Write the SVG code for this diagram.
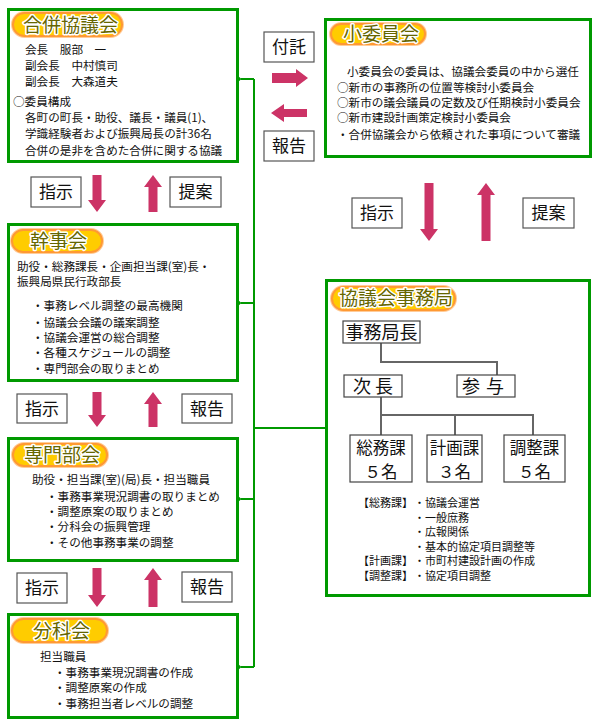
<svg xmlns="http://www.w3.org/2000/svg" width="598" height="725" viewBox="0 0 598 725">
<style>
text{font-family:"Noto Sans CJK JP","Noto Sans CJK SC",sans-serif;fill:#111;}
.box{fill:#fff;stroke:#009900;stroke-width:3;}
.pill{fill:#ffcc00;stroke:#ff9933;stroke-width:2;}
.pillglow{fill:none;stroke:#ffcc99;stroke-width:4;}
.title{font-size:19px;fill:#666600;stroke:#fff;stroke-width:3;paint-order:stroke;stroke-linejoin:round;}
.t{font-size:11.6px;}
.s{font-size:11px;}
.lbl{fill:#fff;stroke:#555;stroke-width:1.2;}
.lt{font-size:17px;text-anchor:middle;}
.org{fill:#fff;stroke:#444;stroke-width:1.2;}
.ot{font-size:18px;text-anchor:middle;}
.ot2{font-size:16.5px;text-anchor:middle;}
.tree{fill:none;stroke:#666;stroke-width:2;}
.arr{fill:#cc3366;}
.con{fill:none;stroke:#009900;stroke-width:2;}
</style>
<defs>
<marker id="chev" markerUnits="userSpaceOnUse" markerWidth="12" markerHeight="14" viewBox="-1 -7 12 14" refX="0" refY="0" orient="auto-start-reverse">
<path d="M8,-6 L1,0 L8,6" fill="none" stroke="#009900" stroke-width="2"/>
</marker>
</defs>

<g id="connectors">
<path class="con" d="M254,79 H241" marker-end="url(#chev)"/>
<path class="con" d="M254,79 V667"/>
<path class="con" d="M254,303 H241" marker-end="url(#chev)"/>
<path class="con" d="M254,499 H241" marker-end="url(#chev)"/>
<path class="con" d="M254,667 H241" marker-end="url(#chev)"/>
<path class="con" d="M254,428 H326"/>
</g>

<g id="arrows">
<polygon class="arr" points="272,73 296,73 296,69 308,78 296,87 296,83 272,83"/>
<polygon class="arr" points="307,109 284,109 284,104 271,113 284,122 284,117 307,117"/>
<polygon class="arr" points="92.5,175 101.5,175 101.5,200 106,200 97,212 88,200 92.5,200"/>
<polygon class="arr" points="148.5,212 157.5,212 157.5,187 162,187 153,175 144,187 148.5,187"/>
<polygon class="arr" points="424.5,183 433.5,183 433.5,229 438,229 429,241 420,229 424.5,229"/>
<polygon class="arr" points="481.5,241 490.5,241 490.5,195 495,195 486,183 477,195 481.5,195"/>
<polygon class="arr" points="92.5,392 101.5,392 101.5,415 106,415 97,427 88,415 92.5,415"/>
<polygon class="arr" points="148.5,427 157.5,427 157.5,404 162,404 153,392 144,404 148.5,404"/>
<polygon class="arr" points="92.5,568 101.5,568 101.5,595 106,595 97,607 88,595 92.5,595"/>
<polygon class="arr" points="148.5,607 157.5,607 157.5,580 162,580 153,568 144,580 148.5,580"/>
</g>

<g id="labels">
<rect class="lbl" x="264" y="32" width="50" height="30"/><text class="lt" x="289" y="53">付託</text>
<rect class="lbl" x="264" y="131" width="50" height="30"/><text class="lt" x="289" y="152">報告</text>
<rect class="lbl" x="31" y="177" width="50" height="30"/><text class="lt" x="56" y="198">指示</text>
<rect class="lbl" x="170" y="177" width="51" height="30"/><text class="lt" x="195.5" y="198">提案</text>
<rect class="lbl" x="352" y="198" width="50" height="30"/><text class="lt" x="377" y="219">指示</text>
<rect class="lbl" x="523" y="198" width="51" height="30"/><text class="lt" x="548.5" y="219">提案</text>
<rect class="lbl" x="17" y="394" width="50" height="29"/><text class="lt" x="42" y="414.5">指示</text>
<rect class="lbl" x="182" y="394" width="50" height="29"/><text class="lt" x="207" y="414.5">報告</text>
<rect class="lbl" x="17" y="573" width="50" height="30"/><text class="lt" x="42" y="594">指示</text>
<rect class="lbl" x="182" y="572" width="50" height="30"/><text class="lt" x="207" y="593">報告</text>
</g>

<g id="gappei">
<rect class="box" x="8.5" y="9.5" width="229" height="152"/>
<rect class="pillglow" x="13" y="13" width="109" height="23" rx="11.5"/>
<rect class="pill" x="13" y="13" width="109" height="23" rx="11.5"/>
<text class="title" x="23" y="31.5">合併協議会</text>
<text class="t" x="25" y="54">会長　服部　一</text>
<text class="t" x="25" y="70">副会長　中村慎司</text>
<text class="t" x="25" y="86">副会長　大森道夫</text>
<text class="t" x="13" y="106">○委員構成</text>
<text class="t" x="25" y="122">各町の町長・助役、議長・議員(1)、</text>
<text class="t" x="25" y="138">学識経験者および振興局長の計36名</text>
<text class="t" x="25" y="155">合併の是非を含めた合併に関する協議</text>
</g>

<g id="shoiinkai">
<rect class="box" x="325.5" y="19.5" width="265" height="137"/>
<rect class="pillglow" x="331" y="24" width="94" height="20" rx="10"/>
<rect class="pill" x="331" y="24" width="94" height="20" rx="10"/>
<text class="title" x="343" y="41">小委員会</text>
<text class="t" x="347" y="76">小委員会の委員は、協議会委員の中から選任</text>
<text class="t" x="337" y="92">○新市の事務所の位置等検討小委員会</text>
<text class="t" x="337" y="107">○新市の議会議員の定数及び任期検討小委員会</text>
<text class="t" x="337" y="122">○新市建設計画策定検討小委員会</text>
<text class="t" x="337" y="139">・合併協議会から依頼された事項について審議</text>
</g>

<g id="kanjikai">
<rect class="box" x="8.5" y="224.5" width="229" height="156"/>
<rect class="pillglow" x="12" y="230" width="90" height="22" rx="11"/>
<rect class="pill" x="12" y="230" width="90" height="22" rx="11"/>
<text class="title" x="30" y="248">幹事会</text>
<text class="t" x="17" y="271">助役・総務課長・企画担当課(室)長・</text>
<text class="t" x="17" y="286">振興局県民行政部長</text>
<text class="t" x="32" y="310">・事務レベル調整の最高機関</text>
<text class="t" x="32" y="327">・協議会会議の議案調整</text>
<text class="t" x="32" y="342">・協議会運営の総合調整</text>
<text class="t" x="32" y="357">・各種スケジュールの調整</text>
<text class="t" x="32" y="373">・専門部会の取りまとめ</text>
</g>

<g id="jimukyoku">
<rect class="box" x="326.5" y="280.5" width="263" height="315"/>
<rect class="pillglow" x="332" y="287" width="123" height="23" rx="11.5"/>
<rect class="pill" x="332" y="287" width="123" height="23" rx="11.5"/>
<text class="title" x="339" y="305">協議会事務局</text>
<path class="tree" d="M381,343 V362 H497 V375 M381,397 V415 H533 V435 M381,415 V435 M455,415 V435"/>
<rect class="org" x="343" y="321" width="77" height="22"/><text class="ot" x="381.5" y="339">事務局長</text>
<rect class="org" x="344" y="375" width="58" height="22"/><text class="ot" x="373" y="393">次 長</text>
<rect class="org" x="457" y="375" width="58" height="22"/><text class="ot" x="486" y="393" letter-spacing="6">参与</text>
<rect class="org" x="350" y="435" width="62" height="47"/><text class="ot2" x="381" y="453.5">総務課</text><text class="ot2" x="381" y="477.5">５名</text>
<rect class="org" x="427" y="435" width="55" height="47"/><text class="ot2" x="454.5" y="453.5">計画課</text><text class="ot2" x="454.5" y="477.5">３名</text>
<rect class="org" x="504" y="435" width="61" height="47"/><text class="ot2" x="534.5" y="453.5">調整課</text><text class="ot2" x="534.5" y="477.5">５名</text>
<text class="s" x="358" y="507">【総務課】</text><text class="s" x="414" y="507">・協議会運営</text>
<text class="s" x="414" y="521.5">・一般庶務</text>
<text class="s" x="414" y="536">・広報関係</text>
<text class="s" x="414" y="550.5">・基本的協定項目調整等</text>
<text class="s" x="358" y="565">【計画課】</text><text class="s" x="414" y="565">・市町村建設計画の作成</text>
<text class="s" x="358" y="579.5">【調整課】</text><text class="s" x="414" y="579.5">・協定項目調整</text>
</g>

<g id="senmonbukai">
<rect class="box" x="8.5" y="438.5" width="229" height="122"/>
<rect class="pillglow" x="13" y="444" width="94" height="22" rx="11"/>
<rect class="pill" x="13" y="444" width="94" height="22" rx="11"/>
<text class="title" x="24" y="462">専門部会</text>
<text class="t" x="32" y="484">助役・担当課(室)(局)長・担当職員</text>
<text class="t" x="46" y="501">・事務事業現況調書の取りまとめ</text>
<text class="t" x="46" y="516">・調整原案の取りまとめ</text>
<text class="t" x="46" y="531">・分科会の振興管理</text>
<text class="t" x="46" y="547">・その他事務事業の調整</text>
</g>

<g id="bunkakai">
<rect class="box" x="8.5" y="614.5" width="229" height="103"/>
<rect class="pillglow" x="12" y="619" width="95" height="23" rx="11.5"/>
<rect class="pill" x="12" y="619" width="95" height="23" rx="11.5"/>
<text class="title" x="33" y="637.5">分科会</text>
<text class="t" x="40" y="661">担当職員</text>
<text class="t" x="54" y="677">・事務事業現況調書の作成</text>
<text class="t" x="54" y="692">・調整原案の作成</text>
<text class="t" x="54" y="708">・事務担当者レベルの調整</text>
</g>
</svg>
